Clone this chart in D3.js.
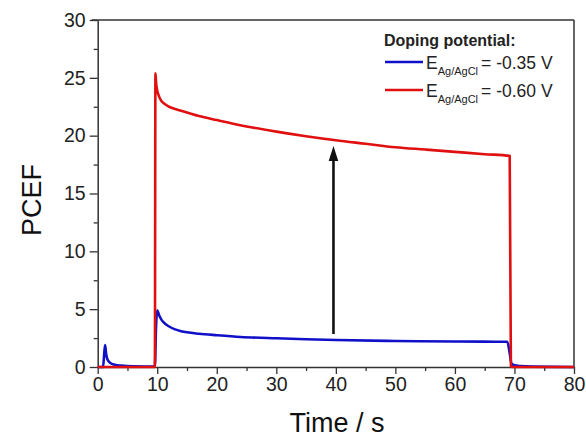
<!DOCTYPE html>
<html>
<head>
<meta charset="utf-8">
<script src="https://cdn.jsdelivr.net/npm/d3@7"></script>
<style>
  html, body { margin: 0; padding: 0; background: #fff; }
  svg { display: block; font-family: "Liberation Sans", Arial, sans-serif; }
</style>
</head>
<body>
<svg id="chart" width="586" height="437"></svg>
<script>
// ---- data ----
const redTime  = [0, 9.6, 9.7, 9.8, 10, 10.3, 10.7, 11.2, 12, 13, 14, 15, 17, 20, 25, 30, 35, 40, 45, 50, 55, 60, 65, 69.2, 69.4, 69.6, 80];
const redPCEF  = [0, 0, 25.4, 24.6, 23.9, 23.4, 23.0, 22.75, 22.5, 22.3, 22.15, 22.0, 21.7, 21.35, 20.8, 20.35, 19.95, 19.6, 19.3, 19.0, 18.8, 18.6, 18.4, 18.25, 0.1, 0, 0];

const blueTime = [0, 0.9, 1.1, 1.25, 1.4, 1.6, 2, 2.5, 3, 4, 6, 9.6, 9.8, 10, 10.3, 10.7, 11, 12, 13, 14, 15, 17, 20, 24, 30, 35, 40, 50, 60, 68.8, 69.2, 69.5, 70, 71, 73, 80];
const bluePCEF = [0, 0, 1.2, 1.9, 1.2, 0.7, 0.4, 0.25, 0.18, 0.12, 0.06, 0.03, 3.5, 4.9, 4.5, 4.1, 3.9, 3.5, 3.25, 3.1, 3.0, 2.88, 2.75, 2.6, 2.48, 2.4, 2.33, 2.25, 2.2, 2.18, 1.2, 0.3, 0.15, 0.08, 0.03, 0];

const xTicks = [0, 10, 20, 30, 40, 50, 60, 70, 80];
const xMinorTicks = [5, 15, 25, 35, 45, 55, 65, 75];
const yTicks = [0, 5, 10, 15, 20, 25, 30];
const yMinorTicks = [2.5, 7.5, 12.5, 17.5, 22.5, 27.5];

const arrowTime = 39.6;
const arrowFrom = 2.85;
const arrowTo = 19.1;

const legendTitle = "Doping potential:";
const legendLabels = ["= -0.35 V", "= -0.60 V"];
const seriesColors = ["#1010c8", "#e01010"];

// ---- layout ----
const svg = d3.select("#chart");
const L = 97.7, R = 574, T = 20, B = 367;

const x = d3.scaleLinear().domain([0, 80]).range([L, R]);
const y = d3.scaleLinear().domain([0, 30]).range([B, T]);

const axisColor = "#333";

// frame (top and right)
svg.append("line").attr("x1", L - 6).attr("x2", R).attr("y1", T).attr("y2", T)
  .attr("stroke", axisColor).attr("stroke-width", 1.5);
svg.append("line").attr("x1", R).attr("x2", R).attr("y1", T).attr("y2", B)
  .attr("stroke", axisColor).attr("stroke-width", 1.5);

// minor ticks
const gxMinor = svg.append("g").attr("transform", `translate(0,${B})`)
  .call(d3.axisBottom(x).tickValues(xMinorTicks).tickSize(4).tickFormat(""));
const gyMinor = svg.append("g").attr("transform", `translate(${L},0)`)
  .call(d3.axisLeft(y).tickValues(yMinorTicks).tickSize(4).tickFormat(""));

// major axes
const gx = svg.append("g").attr("transform", `translate(0,${B})`)
  .call(d3.axisBottom(x).tickValues(xTicks).tickSize(7).tickPadding(3).tickSizeOuter(0));
const gy = svg.append("g").attr("transform", `translate(${L},0)`)
  .call(d3.axisLeft(y).tickValues(yTicks).tickSize(8).tickPadding(4).tickSizeOuter(0));

[gx, gy, gxMinor, gyMinor].forEach(g => {
  g.select(".domain").attr("stroke", axisColor).attr("stroke-width", 1.5);
  g.selectAll(".tick line").attr("stroke", axisColor).attr("stroke-width", 1.3);
  g.selectAll("text").attr("font-size", 19.5).attr("fill", "#222")
    .attr("font-family", '"Liberation Sans", Arial, sans-serif');
});
gxMinor.select(".domain").remove();
gyMinor.select(".domain").remove();

// axis titles
svg.append("text").attr("x", 337).attr("y", 432).attr("text-anchor", "middle")
  .attr("font-size", 27).attr("fill", "#111").text("Time / s");
svg.append("text").attr("transform", "translate(41,200) rotate(-90)")
  .attr("text-anchor", "middle").attr("font-size", 27).attr("fill", "#111").text("PCEF");

// lines
const line = d3.line().curve(d3.curveMonotoneX).x(d => x(d[0])).y(d => y(d[1]));
const blueData = blueTime.map((t, i) => [t, bluePCEF[i]]);
const redData = redTime.map((t, i) => [t, redPCEF[i]]);

svg.append("path").datum(blueData).attr("d", line).attr("fill", "none")
  .attr("stroke", seriesColors[0]).attr("stroke-width", 2.6).attr("stroke-linejoin", "round");
svg.append("path").datum(redData).attr("d", line).attr("fill", "none")
  .attr("stroke", seriesColors[1]).attr("stroke-width", 2.6).attr("stroke-linejoin", "round");

// arrow
const ax = x(arrowTime);
svg.append("line").attr("x1", ax).attr("x2", ax)
  .attr("y1", y(arrowFrom)).attr("y2", y(arrowTo) + 12)
  .attr("stroke", "#111").attr("stroke-width", 2.6);
svg.append("path")
  .attr("d", `M${ax},${y(arrowTo)} L${ax - 4.8},${y(arrowTo) + 15} L${ax + 4.8},${y(arrowTo) + 15} Z`)
  .attr("fill", "#111");

// legend
const lg = svg.append("g");
lg.append("text").attr("x", 384).attr("y", 46).attr("font-size", 16)
  .attr("font-weight", "bold").attr("fill", "#222").text(legendTitle);
const rowY = [62, 90];
legendLabels.forEach((lab, i) => {
  lg.append("line").attr("x1", 385).attr("x2", 423).attr("y1", rowY[i]).attr("y2", rowY[i])
    .attr("stroke", seriesColors[i]).attr("stroke-width", 2.6);
  const t = lg.append("text").attr("x", 426).attr("y", rowY[i] + 6.5).attr("font-size", 17.5).attr("fill", "#222");
  t.append("tspan").text("E");
  t.append("tspan").attr("font-size", 11).attr("dy", 6).text("Ag/AgCl");
  t.append("tspan").attr("dy", -6).attr("dx", 3).text(lab);
});
</script>
</body>
</html>
